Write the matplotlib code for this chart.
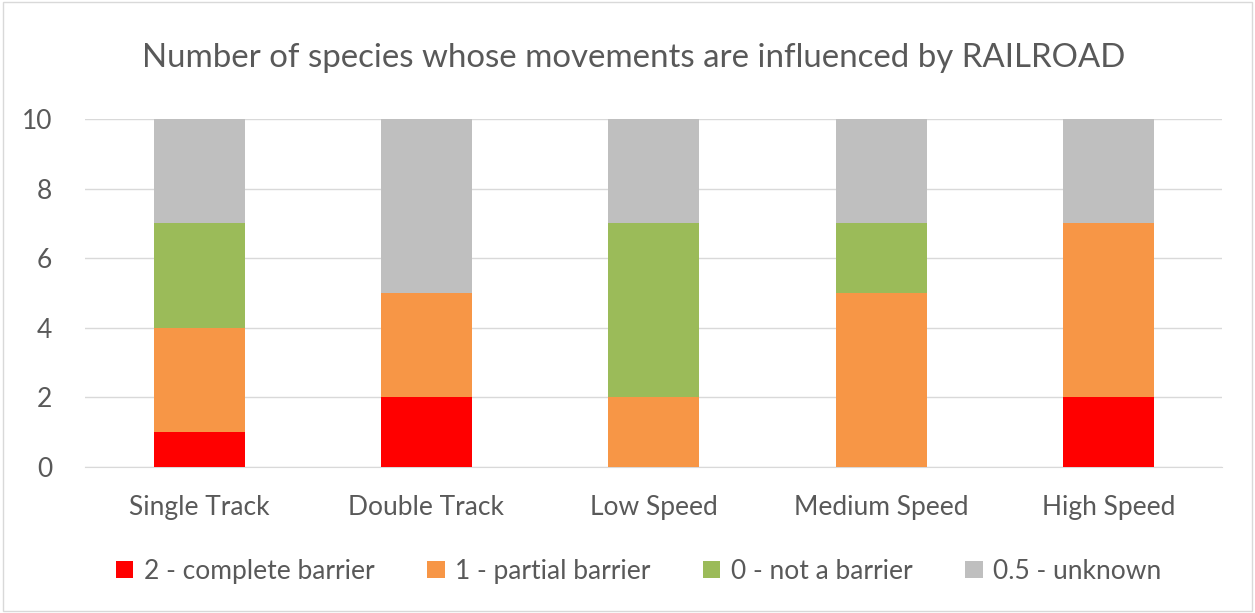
import numpy as np
import matplotlib.pyplot as plt
from matplotlib.patches import Rectangle

plt.rcParams['font.family'] = ['Lato', 'DejaVu Sans']

categories = ["Single Track", "Double Track", "Low Speed", "Medium Speed", "High Speed"]
complete_barrier = [1, 2, 0, 0, 2]
partial_barrier = [3, 3, 2, 5, 5]
not_barrier = [3, 0, 5, 2, 0]
unknown = [3, 5, 3, 3, 3]

series_labels = ["2 - complete barrier", "1 - partial barrier", "0 - not a barrier", "0.5 - unknown"]
colors = ["#FF0000", "#F79646", "#9BBB59", "#BFBFBF"]
text_color = "#595959"

fig = plt.figure(figsize=(12.55, 6.13), dpi=100)
ax = fig.add_axes([0.068, 0.238, 0.906, 0.568])

# stacked bars
x = np.arange(len(categories))
bottom = np.zeros(len(categories))
for vals, lab, col in zip([complete_barrier, partial_barrier, not_barrier, unknown], series_labels, colors):
    ax.bar(x, vals, width=0.4, bottom=bottom, color=col, label=lab, zorder=3)
    bottom += np.array(vals)

ax.set_xlim(-0.5, len(categories) - 0.5)
ax.set_ylim(0, 10)
ax.set_yticks(range(0, 11, 2))
ax.set_xticks(x)
ax.set_xticklabels(categories)
ax.yaxis.grid(True, color="#D9D9D9", linewidth=1, zorder=0)
for s in ["top", "right", "left"]:
    ax.spines[s].set_visible(False)
ax.spines["bottom"].set_color("#D9D9D9")
ax.tick_params(axis="both", length=0, colors=text_color, labelsize=19)
ax.tick_params(axis="x", pad=20)
ax.tick_params(axis="y", pad=24)

fig.text(0.505, 0.905, "Number of species whose movements are influenced by RAILROAD",
         ha="center", va="center", fontsize=23.8, color=text_color)

fig.legend(loc="center", bbox_to_anchor=(0.509, 0.068), ncol=4, frameon=False,
           fontsize=19, labelcolor=text_color, handlelength=0.65, handleheight=0.65,
           columnspacing=2.0, handletextpad=0.4)

# light border around the chart
fig.patches.append(Rectangle((0.002, 0.003), 0.996, 0.994, transform=fig.transFigure,
                             fill=False, edgecolor="#D9D9D9", linewidth=1))

fig.savefig("out.png", dpi=100)
